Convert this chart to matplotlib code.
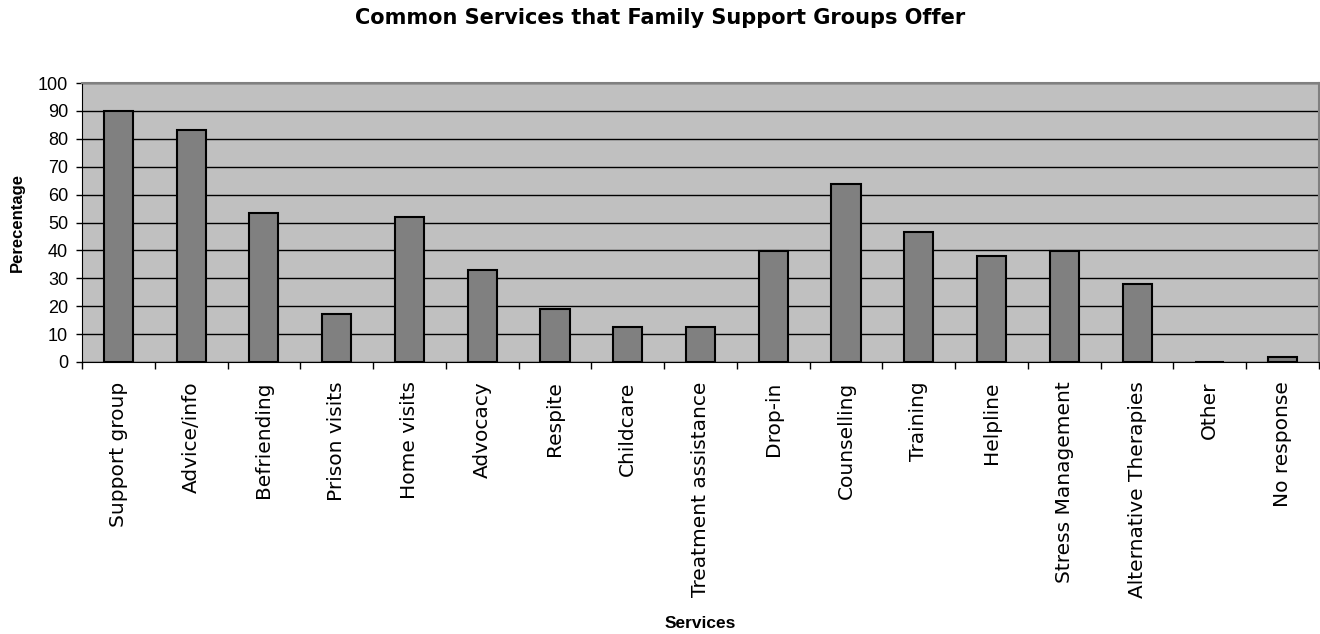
import matplotlib.pyplot as plt
import numpy as np

services = ['Support group', 'Advice/info', 'Befriending', 'Prison visits',
            'Home visits', 'Advocacy', 'Respite', 'Childcare',
            'Treatment assistance', 'Drop-in', 'Counselling', 'Training',
            'Helpline', 'Stress Management', 'Alternative Therapies',
            'Other', 'No response']
percentages = [90.0, 83.0, 53.4, 17.3, 52.0, 33.0, 19.1, 12.4,
               12.4, 39.8, 63.9, 46.7, 38.1, 39.8, 27.8, 0.0, 1.9]
y_ticks = [0, 10, 20, 30, 40, 50, 60, 70, 80, 90, 100]

plt.rcParams['font.family'] = ['Liberation Sans', 'DejaVu Sans']

fig = plt.figure(figsize=(13.2, 6.34), dpi=100)
# plot area: x 82..1319 px, y 83..362 px
ax = fig.add_axes([82 / 1320, 272 / 634, 1237 / 1320, 279 / 634])

x = np.arange(len(services))
ax.set_facecolor('#c0c0c0')
ax.bar(x, percentages, width=0.4, color='#808080', edgecolor='black',
       linewidth=1.5, zorder=3)

ax.set_xlim(-0.5, len(services) - 0.5)
ax.set_ylim(0, 100)
ax.set_yticks(y_ticks)
ax.yaxis.grid(True, color='black', linewidth=1.0, zorder=1)
ax.set_axisbelow(True)

# labels centred on bars, tick marks between categories
ax.set_xticks(x)
ax.set_xticklabels(services, rotation=90, fontsize=14.5, family='DejaVu Sans')
ax.tick_params(axis='x', which='major', length=0, pad=14)
ax.set_xticks(np.arange(-0.5, len(services), 1.0), minor=True)
ax.tick_params(axis='x', which='minor', length=5, width=1, color='black')
ax.tick_params(axis='y', labelsize=13, length=4.5, width=1, pad=5.5)

for side in ['top', 'right']:
    ax.spines[side].set_color('#808080')
    ax.spines[side].set_linewidth(1.5)
ax.spines['left'].set_color('black')
ax.spines['bottom'].set_color('black')

ax.set_ylabel('Perecentage', fontsize=12, fontweight='bold')
ax.yaxis.set_label_coords(-57 / 1237, 0.5)
ax.set_xlabel('Services', fontsize=12.5, fontweight='bold')
ax.xaxis.set_label_coords(0.5, -254 / 279)

fig.text(0.5, 1 - 18 / 634, 'Common Services that Family Support Groups Offer',
         ha='center', va='center', fontsize=15, fontweight='bold',
         family='DejaVu Sans')

fig.savefig('out.png', dpi=100)
